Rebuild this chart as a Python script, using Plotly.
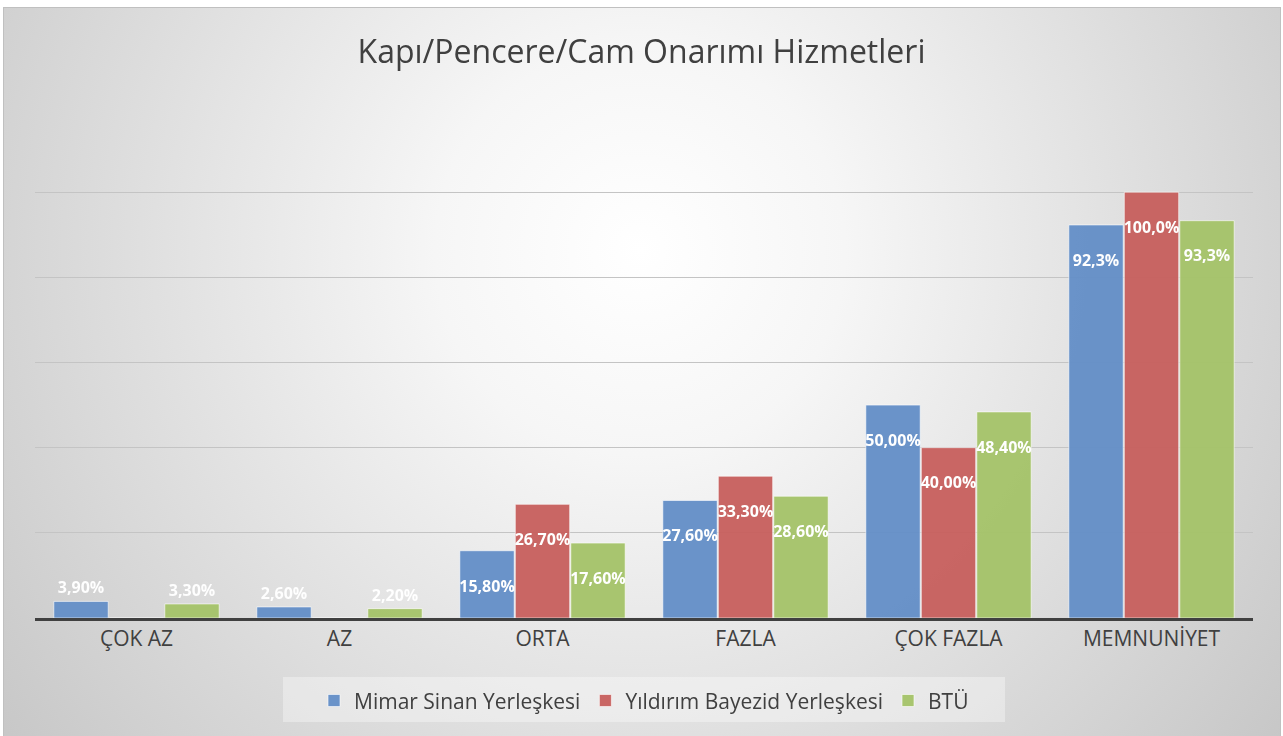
import base64
import plotly.graph_objects as go

categories = ["ÇOK AZ", "AZ", "ORTA", "FAZLA", "ÇOK FAZLA", "MEMNUNİYET"]
series_names = ["Mimar Sinan Yerleşkesi", "Yıldırım Bayezid Yerleşkesi", "BTÜ"]
mimar_sinan = [3.9, 2.6, 15.8, 27.6, 50.0, 92.3]
yildirim_bayezid = [0, 0, 26.7, 33.3, 40.0, 100.0]
btu = [3.3, 2.2, 17.6, 28.6, 48.4, 93.3]
mimar_labels = ["3,90%", "2,60%", "15,80%", "27,60%", "50,00%", "92,3%"]
yildirim_labels = ["", "", "26,70%", "33,30%", "40,00%", "100,0%"]
btu_labels = ["3,30%", "2,20%", "17,60%", "28,60%", "48,40%", "93,3%"]
colors = ["#6690C8", "#C8625F", "#A6C46B"]

W, H = 1283, 736
ml, mr, mt, mb = 35, 30, 107, 118
pw, ph = W - ml - mr, H - mt - mb

# radial gradient background (and legend panel) as svg
svg = f"""<svg xmlns='http://www.w3.org/2000/svg' width='{W}' height='{H}' viewBox='0 0 {W} {H}' preserveAspectRatio='none'>
<defs><radialGradient id='g' cx='640' cy='250' r='820' gradientUnits='userSpaceOnUse'>
<stop offset='0' stop-color='#ffffff'/><stop offset='0.25' stop-color='#f6f6f6'/>
<stop offset='1' stop-color='#c6c6c6'/></radialGradient></defs>
<rect x='0' y='0' width='{W}' height='{H}' fill='#ffffff'/>
<rect x='3.5' y='7.5' width='{W-6}' height='{H-6}' fill='url(#g)' stroke='#c0c0c0' stroke-width='1'/>
<rect x='283' y='677' width='722' height='45' fill='#ffffff' fill-opacity='0.35'/>
</svg>"""
bg = "data:image/svg+xml;base64," + base64.b64encode(svg.encode()).decode()

fig = go.Figure()
for name, vals, labels, col in zip(series_names, [mimar_sinan, yildirim_bayezid, btu],
                                   [mimar_labels, yildirim_labels, btu_labels], colors):
    inside = [v >= 10 for v in vals]
    fig.add_trace(go.Bar(
        x=categories, y=vals, name=name,
        text=[("\u00a0<br>" + t) if ins else t for t, ins in zip(labels, inside)],
        textposition=["inside" if ins else "outside" for ins in inside],
        insidetextanchor="end", constraintext="none", cliponaxis=False, textangle=0,
        textfont=dict(family="Open Sans", size=16, color="white", weight="bold"),
        marker=dict(color=col, line=dict(color="rgba(255,255,255,0.6)", width=1)),
        opacity=0.97,
    ))

fig.add_layout_image(dict(
    source=bg, xref="paper", yref="paper",
    x=-ml / pw, y=1 + mt / ph, sizex=W / pw, sizey=H / ph,
    xanchor="left", yanchor="top", sizing="stretch", layer="below",
))

fig.update_layout(
    width=W, height=H,
    margin=dict(l=ml, r=mr, t=mt, b=mb, autoexpand=False),
    paper_bgcolor="white", plot_bgcolor="rgba(0,0,0,0)",
    title=dict(text="Kapı/Pencere/Cam Onarımı Hizmetleri", x=0.5, xanchor="center",
               y=1 - 52 / H, yanchor="middle",
               font=dict(family="Open Sans", size=32, color="#404040")),
    barmode="group", bargap=0.18, bargroupgap=0.02,
    showlegend=True,
    legend=dict(orientation="h", x=0.5, xanchor="center", y=-0.122, yanchor="top",
                bgcolor="rgba(0,0,0,0)", font=dict(family="Open Sans", size=21, color="#404040"),
                itemwidth=30, traceorder="normal"),
    xaxis=dict(showline=True, linecolor="#404040", linewidth=3, ticks="",
               tickfont=dict(family="Open Sans", size=21, color="#404040")),
    yaxis=dict(range=[0, 120], dtick=20, showticklabels=False, showgrid=True,
               gridcolor="#c4c4c4", gridwidth=1, zeroline=False),
)

fig.write_html("out.html", config={"displayModeBar": False},
               post_script="document.body.style.margin='0';")
